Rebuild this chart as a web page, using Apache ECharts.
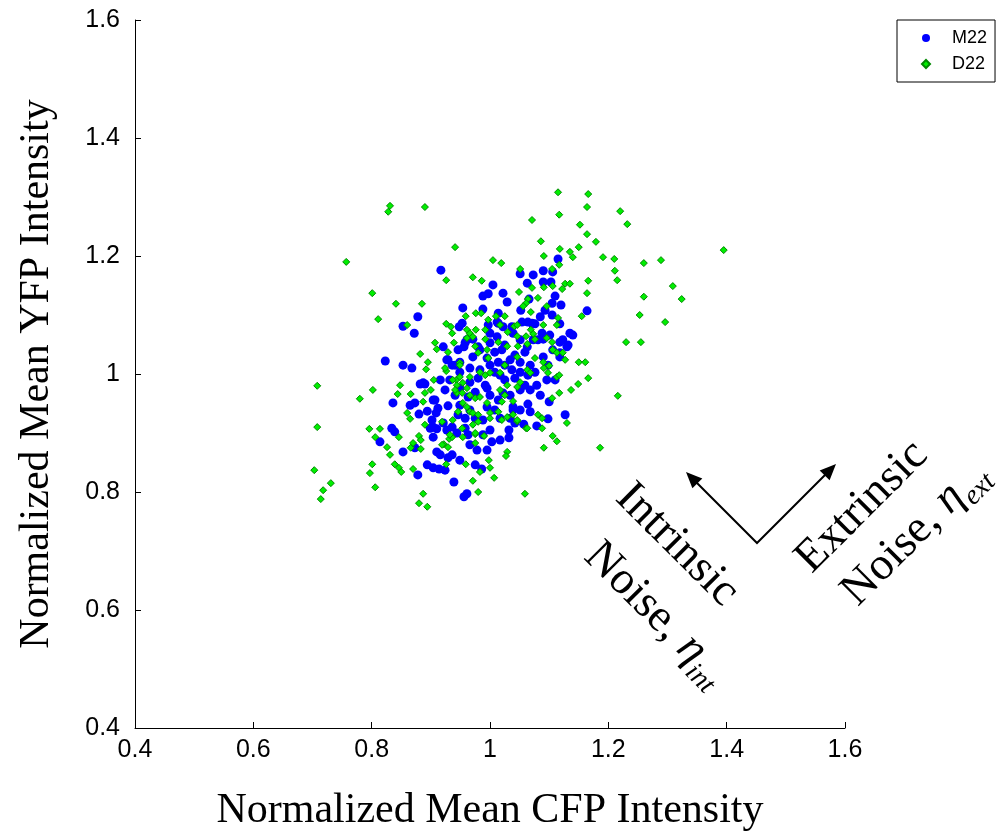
<!DOCTYPE html>
<html>
<head>
<meta charset="utf-8">
<script src="https://cdn.jsdelivr.net/npm/echarts@6/dist/echarts.min.js"></script>
<style>
html,body{margin:0;padding:0;background:#fff;}
#chart{width:1003px;height:833px;}
</style>
</head>
<body>
<div id="chart"></div>
<script>
// M22 points [CFP, YFP]
var m22 = [
[0.917,1.176],[1.005,1.151],[0.988,1.132],[0.997,1.136],[0.954,1.112],[0.988,1.110],[1.014,1.103],[0.878,1.097],[0.853,1.081],[0.872,1.069],[0.948,1.080],[0.997,1.083],[1.014,1.086],[0.958,1.053],[0.956,1.046],[0.971,1.059],[0.980,1.046],[1.000,1.053],[1.115,1.195],[1.051,1.170],[1.073,1.168],[1.090,1.175],[1.106,1.173],[1.063,1.154],[1.090,1.156],[1.103,1.156],[1.022,1.137],[1.029,1.122],[1.066,1.127],[1.110,1.132],[1.105,1.120],[1.120,1.117],[1.052,1.108],[1.093,1.108],[1.164,1.107],[1.085,1.097],[1.105,1.100],[1.064,1.088],[1.076,1.085],[1.118,1.085],[1.037,1.080],[1.022,1.080],[1.101,1.066],[1.135,1.069],[1.140,1.066],[1.118,1.054],[1.090,1.059],[1.073,1.058],[1.132,1.049],[1.063,1.046],
[0.823,1.022],[0.853,1.015],[0.868,1.010],[0.882,0.983],[0.890,0.983],[0.836,0.951],[0.865,0.947],[0.873,0.951],[0.880,0.932],[0.894,0.937],[0.907,0.956],[0.909,0.934],[0.929,0.946],[0.902,0.922],[0.904,0.910],[0.910,0.907],[0.834,0.908],[0.839,0.902],[0.814,0.885],[0.853,0.868],[0.873,0.875],[0.910,0.868],[0.916,0.863],[0.936,0.863],[0.929,0.858],[0.894,0.846],[0.904,0.841],[0.914,0.839],[0.878,0.829],[0.939,0.817],[0.956,0.792],[0.961,0.797],[0.986,0.839],[0.921,1.046],[0.929,1.024],[0.978,0.871],[0.995,0.871],[1.096,0.990],[1.100,0.953],[1.064,0.949],[1.098,0.924],[1.127,0.931],[1.057,0.915],[1.079,0.912],[1.042,0.917],[1.032,0.905],[1.032,0.892],[1.039,0.939],[1.130,1.046],[1.118,1.036],[1.039,1.069],[1.051,1.058],[1.088,1.069],[1.081,1.058],[1.123,1.058],[1.012,1.063],[0.961,1.058],[1.025,1.049],[1.020,1.041],[0.971,1.029],[0.983,1.041],[0.995,1.027],[1.014,1.020],[1.034,1.024],[1.051,1.020],[1.068,1.015],[0.927,1.024],[0.936,1.015],[0.949,1.020],[1.090,1.029],[1.106,1.041],[1.118,1.029],[1.012,1.088],[1.054,1.088],[1.071,1.086],[1.000,1.069],[0.953,1.086],[0.887,0.985],[0.904,0.956],[0.912,0.942],[0.941,1.015],[0.949,1.003],[1.025,1.015],[1.037,1.007],[1.051,1.003],[1.064,0.998],[1.017,0.998],[1.025,0.990],[1.042,0.993],[1.008,1.003],[1.022,0.968],[1.039,0.944],[1.000,0.905],[0.988,0.897],[1.003,0.885],[0.936,0.910],[0.944,0.900],[0.958,0.908],[0.963,0.897],[0.921,0.917],[0.927,0.905],[0.899,0.908],[0.904,0.893],[0.995,0.944],[1.008,0.939],[0.966,0.939],[0.975,0.925],[0.963,0.961],[0.975,0.969],[0.941,0.964],[0.949,0.976],[0.992,0.981],[0.980,0.993],[0.966,0.986],[1.000,0.964],[1.014,0.956],[1.034,0.964],[1.051,0.973],[1.068,0.973],[1.079,0.981],[1.085,0.964],[0.949,0.947],[0.924,0.973],[0.916,0.990],[0.932,0.990],[1.017,0.925],[0.988,0.922],[0.946,0.931],[1.051,0.939],[0.966,1.010],[0.983,1.007],[1.000,1.015],[1.076,1.003],[1.042,1.032],[1.059,1.037],[1.008,1.037],[0.946,1.041],[0.966,0.880],[0.949,0.854],[0.924,0.837],[0.975,0.846],[1.034,0.925],[1.068,0.936],[1.098,1.015],[1.110,0.990],[1.059,0.981],[0.995,0.976],[0.958,0.925],[1.017,0.888]
];
// D22 points [CFP, YFP]
var d22 = [
[0.831,1.285],[0.828,1.275],[0.890,1.283],[0.941,1.215],[0.757,1.190],[1.005,1.193],[0.926,1.159],[0.971,1.164],[0.986,1.158],[0.801,1.137],[0.841,1.119],[0.885,1.119],[0.811,1.093],[0.860,1.083],[0.959,1.098],[0.976,1.103],[0.985,1.103],[0.997,1.092],[1.010,1.098],[0.926,1.085],[0.934,1.080],[0.936,1.069],[0.961,1.075],[0.966,1.069],[0.971,1.063],[0.976,1.075],[0.992,1.075],[0.992,1.059],[0.907,1.053],[0.939,1.053],[0.975,1.047],[1.014,1.054],
[1.115,1.308],[1.166,1.305],[1.164,1.283],[1.220,1.276],[1.071,1.261],[1.117,1.270],[1.152,1.253],[1.232,1.254],[1.164,1.237],[1.086,1.225],[1.179,1.224],[1.118,1.212],[1.150,1.215],[1.135,1.207],[1.140,1.198],[1.091,1.200],[1.019,1.188],[1.191,1.198],[1.210,1.195],[1.260,1.188],[1.289,1.193],[1.395,1.210],[1.051,1.178],[1.105,1.178],[1.117,1.185],[1.211,1.175],[1.215,1.159],[1.166,1.158],[1.164,1.137],[1.309,1.149],[1.260,1.131],[1.324,1.127],[1.253,1.100],[1.296,1.088],[1.230,1.054],[1.255,1.054],[1.155,1.098],[1.071,1.146],[1.091,1.147],[1.106,1.149],[1.122,1.144],[1.127,1.153],[1.135,1.153],[1.049,1.139],[1.081,1.129],[1.064,1.127],[1.061,1.120],[1.056,1.115],[1.069,1.105],[1.096,1.115],[1.115,1.095],[1.090,1.083],[1.025,1.098],[1.041,1.081],[1.069,1.075],[1.073,1.068],[1.061,1.064],[1.046,1.064],[1.076,1.059],[1.105,1.054],[1.030,1.071],[1.047,1.047],[1.029,1.047],
[0.708,0.980],[0.708,0.910],[0.703,0.837],[0.731,0.815],[0.718,0.803],[0.714,0.788],[0.802,0.973],[0.780,0.958],[0.848,0.981],[0.844,0.966],[0.866,0.966],[0.882,1.034],[0.895,1.020],[0.892,1.008],[0.910,1.042],[0.929,1.037],[0.905,0.990],[0.890,0.968],[0.900,0.973],[0.887,0.953],[0.860,0.934],[0.865,0.924],[0.796,0.907],[0.814,0.907],[0.806,0.893],[0.846,0.893],[0.826,0.876],[0.831,0.863],[0.866,0.875],[0.870,0.883],[0.883,0.873],[0.880,0.895],[0.883,0.888],[0.890,0.914],[0.801,0.847],[0.797,0.832],[0.806,0.808],[0.839,0.847],[0.846,0.841],[0.850,0.834],[0.870,0.839],[0.887,0.797],[0.880,0.781],[0.894,0.775],[0.919,0.919],[0.922,0.881],[0.929,0.876],[0.926,0.847],[0.931,0.890],[0.936,0.893],[0.959,0.847],[0.971,0.819],[0.980,0.800],[0.983,0.834],[1.000,0.841],[0.998,0.854],[1.007,0.824],[0.954,0.893],[0.975,0.898],[0.990,0.895],[0.975,0.883],[0.949,1.019],[0.926,1.005],[0.943,0.990],[0.944,0.968],
[1.150,1.020],[1.161,1.020],[1.166,0.993],[1.149,0.983],[1.137,0.973],[1.117,0.968],[1.105,0.959],[1.216,0.963],[1.113,0.995],[1.117,0.998],[1.098,1.002],[1.100,1.014],[1.091,1.010],[1.081,0.931],[1.088,0.908],[1.130,0.917],[1.106,0.895],[1.113,0.886],[1.091,0.875],[1.186,0.875],[1.061,0.908],[1.046,0.920],[1.029,0.868],[1.027,0.861],[1.059,0.797],[1.039,0.954],
[1.017,1.083],[1.046,1.083],[1.113,1.083],[0.961,1.061],[1.096,1.061],[1.063,1.051],[1.106,1.041],[1.113,1.036],[0.980,1.036],[0.995,1.041],[0.997,1.027],[1.025,1.015],[1.046,1.029],[1.076,1.027],[1.090,1.020],[1.123,1.036],[1.127,1.024],[0.949,1.015],
[0.924,1.010],[0.937,0.990],[0.944,0.981],[0.941,0.973],[0.949,0.995],[0.954,0.985],[0.966,0.995],[0.961,0.976],[0.953,0.968],[0.966,0.964],[0.975,0.959],[0.983,0.961],[0.954,0.951],[0.961,0.944],[0.966,0.936],[0.946,0.936],[0.937,0.922],[0.971,0.934],[0.980,0.931],[0.995,0.951],[1.000,0.934],[1.000,0.925],[0.980,0.919],[0.971,0.914],[0.953,0.908],[0.932,0.897],[0.919,0.880],[0.975,0.900],[0.983,1.003],[0.992,0.998],[1.000,1.002],[1.017,1.002],[1.029,0.981],[1.046,0.978],[1.051,0.986],[1.063,1.007],[1.068,1.002],[1.017,0.973],[1.025,0.964],[1.020,0.953],[1.014,0.936],[1.020,0.922],[1.029,0.927],[1.039,0.931],[1.046,0.922],[1.063,0.908],[1.088,0.925]
];
var seriesNames = ['M22', 'D22'];
var xTitle = 'Normalized Mean CFP Intensity';
var yTitle = 'Normalized Mean YFP Intensity';
var axisMin = 0.4, axisMax = 1.6, axisStep = 0.2;

var chart = echarts.init(document.getElementById('chart'), null, {renderer: 'canvas'});
function fmt(v){ return String(parseFloat(v.toFixed(1))); }
var tickFont = {fontFamily: 'Liberation Sans', fontSize: 25, color: '#000'};
var nameFont = {fontFamily: 'Liberation Serif', fontSize: 42, color: '#000'};
var serif = 'Liberation Serif';
var option = {
  animation: false,
  backgroundColor: '#fff',
  grid: {left: 135, right: 158, top: 20, bottom: 105, containLabel: false, outerBoundsMode: 'none'},
  legend: {
    orient: 'vertical', left: 897, top: 20,
    backgroundColor: '#fff', borderColor: '#000', borderWidth: 1,
    padding: [9, 8, 9, 24],
    itemWidth: 8, itemHeight: 8, itemGap: 8,
    textStyle: {fontFamily: 'Liberation Sans', fontSize: 18, color: '#000', padding: [0,0,0,17], lineHeight: 13},
    data: [{name: seriesNames[0], icon: 'circle'}, {name: seriesNames[1], icon: 'diamond'}]
  },
  xAxis: {
    type: 'value', min: axisMin, max: axisMax, interval: axisStep,
    name: xTitle, nameLocation: 'middle', nameGap: 62, nameTextStyle: nameFont,
    axisLine: {show: true, onZero: false, lineStyle: {color: '#000', width: 1}},
    axisTick: {show: true, inside: true, length: 6, lineStyle: {color: '#000'}},
    axisLabel: Object.assign({margin: 10, formatter: fmt}, tickFont),
    splitLine: {show: false}
  },
  yAxis: {
    type: 'value', min: axisMin, max: axisMax, interval: axisStep,
    name: yTitle, nameLocation: 'middle', nameGap: 77, nameTextStyle: nameFont,
    axisLine: {show: true, onZero: false, lineStyle: {color: '#000', width: 1}},
    axisTick: {show: true, inside: true, length: 6, lineStyle: {color: '#000'}},
    axisLabel: Object.assign({margin: 15, formatter: fmt}, tickFont),
    splitLine: {show: false}
  },
  series: [
    {name: seriesNames[0], type: 'scatter', data: m22, symbol: 'circle', symbolSize: 9,
     itemStyle: {color: '#0000ff', opacity: 1}},
    {name: seriesNames[1], type: 'scatter', data: d22, symbol: 'diamond', symbolSize: 7,
     itemStyle: {color: '#00ee00', borderColor: '#008800', borderWidth: 1, opacity: 1}}
  ],
  graphic: [
    {type: 'polyline', shape: {points: [[695,481],[757,543],[826,474]]}, style: {stroke: '#000', lineWidth: 2, fill: null}},
    {type: 'polygon', shape: {points: [[686,472],[702.3,478.4],[692.4,488.3]]}, style: {fill: '#000'}},
    {type: 'polygon', shape: {points: [[836,464],[829.6,480.3],[819.7,470.4]]}, style: {fill: '#000'}},
    {type: 'text', x: 677, y: 545, rotation: -Math.PI/4,
     style: {text: 'Intrinsic', fontFamily: serif, fontSize: 46, fill: '#000', align: 'center', verticalAlign: 'middle'}},
    {type: 'text', x: 656, y: 614, rotation: -Math.PI/4,
     style: {text: 'Noise, {e|η}{s|int}', fontFamily: serif, fontSize: 46, fill: '#000', align: 'center', verticalAlign: 'middle',
       rich: {e: {fontFamily: serif, fontSize: 46, fontStyle: 'italic', fill: '#000'},
              s: {fontFamily: serif, fontSize: 28, fontStyle: 'italic', fill: '#000', padding: [30,0,0,0], verticalAlign: 'bottom'}}}},
    {type: 'text', x: 862, y: 507, rotation: Math.PI/4,
     style: {text: 'Extrinsic', fontFamily: serif, fontSize: 46, fill: '#000', align: 'center', verticalAlign: 'middle'}},
    {type: 'text', x: 915, y: 533, rotation: Math.PI/4,
     style: {text: 'Noise, {e|η}{s|ext}', fontFamily: serif, fontSize: 46, fill: '#000', align: 'center', verticalAlign: 'middle',
       rich: {e: {fontFamily: serif, fontSize: 46, fontStyle: 'italic', fill: '#000'},
              s: {fontFamily: serif, fontSize: 28, fontStyle: 'italic', fill: '#000', padding: [30,0,0,0], verticalAlign: 'bottom'}}}}
  ]
};
chart.setOption(option);
</script>
</body>
</html>
